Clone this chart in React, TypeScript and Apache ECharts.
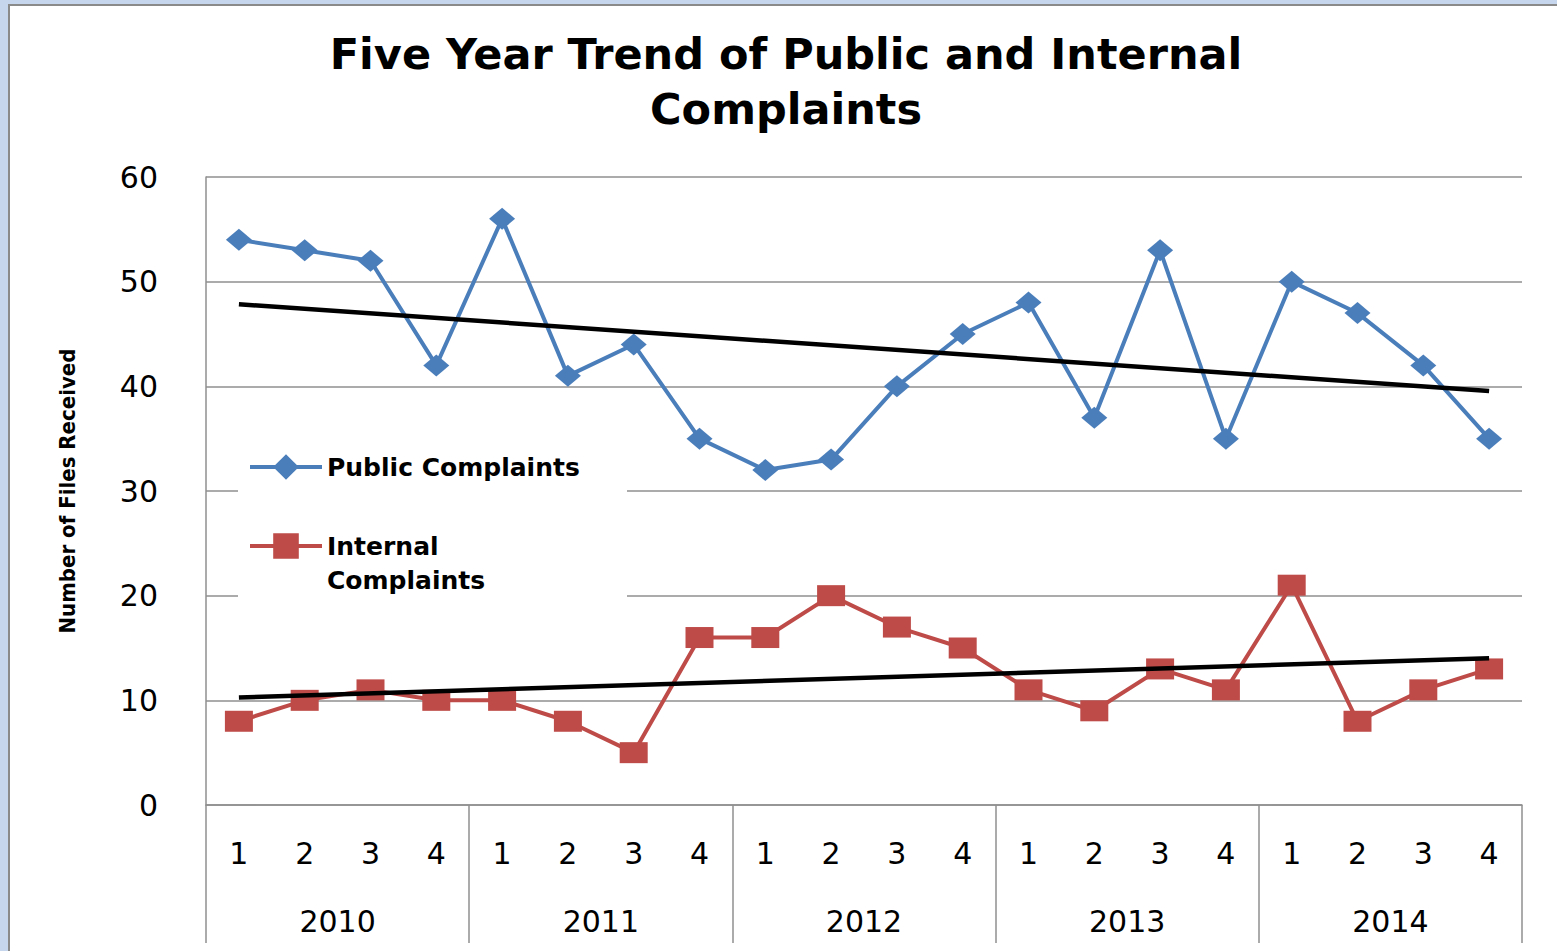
import React, { useEffect, useRef } from "react";
import * as echarts from "echarts";

const years = ["2010", "2011", "2012", "2013", "2014"];
const quarters = ["1", "2", "3", "4"];
const categories = years.flatMap((y) => quarters.map((q) => `${y}-${q}`));
const publicComplaints = [54, 53, 52, 42, 56, 41, 44, 35, 32, 33, 40, 45, 48, 37, 53, 35, 50, 47, 42, 35];
const internalComplaints = [8, 10, 11, 10, 10, 8, 5, 16, 16, 20, 17, 15, 11, 9, 13, 11, 21, 8, 11, 13];
const yTicks = { min: 0, max: 60, interval: 10 };

function linearTrend(values: number[]): [number, number] {
  const n = values.length;
  const xs = values.map((_, i) => i + 1);
  const mx = xs.reduce((a, b) => a + b, 0) / n;
  const my = values.reduce((a, b) => a + b, 0) / n;
  let sxy = 0;
  let sxx = 0;
  for (let i = 0; i < n; i++) {
    sxy += (xs[i] - mx) * (values[i] - my);
    sxx += (xs[i] - mx) * (xs[i] - mx);
  }
  const slope = sxy / sxx;
  const icpt = my - slope * mx;
  return [icpt + slope * 1, icpt + slope * n];
}

const GRID_COLOR = "#8f8f8f";
const AXIS_FONT = "DejaVu Sans";
const BLUE = "#4a7ebb";
const RED = "#be4b48";

export default function App() {
  const ref = useRef<HTMLDivElement>(null);
  useEffect(() => {
    if (!ref.current) return;
    const chart = echarts.init(ref.current, undefined, { renderer: "svg" });
    const [p0, p1] = linearTrend(publicComplaints);
    const [i0, i1] = linearTrend(internalComplaints);
    const first = categories[0];
    const last = categories[categories.length - 1];
    const trendLine = (a: number, b: number) => ({
      silent: true,
      symbol: "none",
      label: { show: false },
      lineStyle: { color: "#000", width: 4.5, type: "solid" },
      data: [[{ coord: [first, a] }, { coord: [last, b] }]],
    });
    const legendText = {
      fontFamily: AXIS_FONT,
      fontWeight: "bold",
      fontSize: 25,
      lineHeight: 34,
      color: "#000",
    };
    chart.setOption({
      animation: false,
      backgroundColor: "#fff",
      title: {
        text: "Five Year Trend of Public and Internal\nComplaints",
        left: 786,
        textAlign: "center",
        top: 26,
        padding: 0,
        textStyle: {
          fontFamily: AXIS_FONT,
          fontWeight: "bold",
          fontSize: 43,
          lineHeight: 55,
          color: "#000",
        },
      },
      graphic: [
        { type: "rect", shape: { x: 0, y: 0, width: 8, height: 951 }, style: { fill: "#c6d6ec" }, z: 0 },
        { type: "rect", shape: { x: 0, y: 0, width: 1557, height: 4 }, style: { fill: "#c6d6ec" }, z: 0 },
        { type: "rect", shape: { x: 8, y: 4, width: 2, height: 947 }, style: { fill: "#8a8a8a" }, z: 0 },
        { type: "rect", shape: { x: 8, y: 4, width: 1549, height: 2 }, style: { fill: "#8a8a8a" }, z: 0 },
        { type: "rect", shape: { x: 238, y: 440, width: 389, height: 160 }, style: { fill: "#fff" }, z: 1 },
      ],
      legend: [
        {
          data: ["Public Complaints"],
          left: 248,
          top: 450,
          padding: 0,
          itemWidth: 72,
          itemHeight: 32,
          lineStyle: { width: 4 },
          textStyle: legendText,
          z: 5,
        },
        {
          data: ["Internal Complaints"],
          left: 248,
          top: 495,
          padding: 0,
          itemWidth: 72,
          itemHeight: 32,
          lineStyle: { width: 4 },
          formatter: () => "\u00a0\nInternal\nComplaints",
          textStyle: legendText,
          z: 5,
        },
      ],
      grid: { left: 206, top: 177, width: 1316, height: 628, containLabel: false },
      xAxis: [
        {
          type: "category",
          data: categories,
          position: "bottom",
          boundaryGap: true,
          axisLine: { show: true, lineStyle: { color: GRID_COLOR, width: 1.5 } },
          axisTick: { show: false },
          axisLabel: {
            formatter: (v: string) => v.split("-")[1],
            fontFamily: AXIS_FONT,
            fontSize: 30,
            color: "#000",
            margin: 33,
            interval: 0,
          },
          splitLine: { show: false },
        },
        {
          type: "category",
          data: years,
          position: "bottom",
          boundaryGap: true,
          axisLine: { show: false },
          axisTick: { show: true, length: 138, lineStyle: { color: GRID_COLOR, width: 1.5 } },
          axisLabel: { fontFamily: AXIS_FONT, fontSize: 30, color: "#000", margin: 101, interval: 0 },
          splitLine: { show: false },
        },
      ],
      yAxis: {
        type: "value",
        min: yTicks.min,
        max: yTicks.max,
        interval: yTicks.interval,
        name: "Number of Files Received",
        nameLocation: "middle",
        nameRotate: 90,
        nameGap: 128,
        nameTextStyle: {
          fontFamily: "'DejaVu Sans Condensed', 'Liberation Sans Narrow', sans-serif",
          fontWeight: "bold",
          fontSize: 22,
          color: "#000",
        },
        axisLine: { show: true, lineStyle: { color: GRID_COLOR, width: 1.5 } },
        axisTick: { show: false },
        axisLabel: { fontFamily: AXIS_FONT, fontSize: 30, color: "#000", margin: 48 },
        splitLine: { show: true, lineStyle: { color: GRID_COLOR, width: 1.5 } },
      },
      series: [
        {
          name: "Public Complaints",
          type: "line",
          xAxisIndex: 0,
          data: publicComplaints,
          symbol: "diamond",
          symbolSize: [26, 22],
          lineStyle: { color: BLUE, width: 4 },
          itemStyle: { color: BLUE },
          z: 3,
          markLine: trendLine(p0, p1),
        },
        {
          name: "Internal Complaints",
          type: "line",
          xAxisIndex: 0,
          data: internalComplaints,
          symbol: "rect",
          symbolSize: [28, 21],
          lineStyle: { color: RED, width: 4 },
          itemStyle: { color: RED },
          z: 3,
          markLine: trendLine(i0, i1),
        },
      ],
    });
    return () => chart.dispose();
  }, []);
  return (
    <div
      ref={ref}
      style={{ position: "absolute", left: 0, top: 0, width: 1557, height: 951 }}
    />
  );
}
